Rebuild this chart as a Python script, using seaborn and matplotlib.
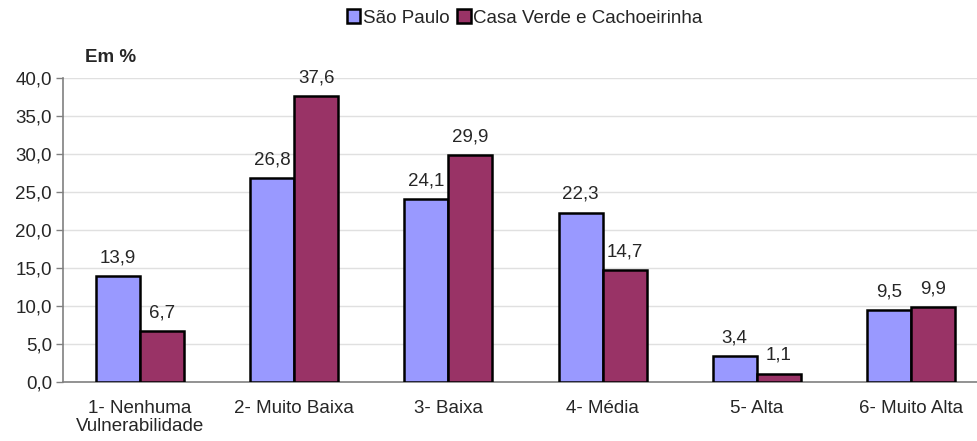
import matplotlib
matplotlib.use("Agg")
import matplotlib.pyplot as plt
import seaborn as sns
import pandas as pd
import numpy as np

# Data
categories = ["1- Nenhuma\nVulnerabilidade", "2- Muito Baixa", "3- Baixa",
              "4- Média", "5- Alta", "6- Muito Alta"]
series_names = ["São Paulo", "Casa Verde e Cachoeirinha"]
sao_paulo = [13.9, 26.8, 24.1, 22.3, 3.4, 9.5]
casa_verde = [6.7, 37.6, 29.9, 14.7, 1.1, 9.9]
yticks = [0, 5, 10, 15, 20, 25, 30, 35, 40]

df = pd.DataFrame({
    "categoria": categories * 2,
    "serie": [series_names[0]] * 6 + [series_names[1]] * 6,
    "valor": sao_paulo + casa_verde,
})

sns.set_theme(style="white")
plt.rcParams['font.family'] = ['Liberation Sans', 'DejaVu Sans']
fs = 13.5

fig = plt.figure(figsize=(9.77, 4.41), dpi=100)
ax = fig.add_axes([63 / 977, 59 / 441, 925 / 977, 304 / 441])

palette = {series_names[0]: "#9999FF", series_names[1]: "#993366"}
sns.barplot(data=df, x="categoria", y="valor", hue="serie", palette=palette,
            width=0.57, edgecolor="black", linewidth=1.8, saturation=1,
            ax=ax, zorder=3)

# value labels with comma decimals
for cont in ax.containers:
    ax.bar_label(cont, labels=[f"{v:.1f}".replace(".", ",") for v in cont.datavalues],
                 padding=7, fontsize=fs)

ax.set_ylim(0, 40)
ax.set_xlim(-0.5, 5.5)
ax.set_yticks(yticks)
ax.set_yticklabels([f"{v:.1f}".replace(".", ",") for v in yticks], fontsize=fs)
ax.yaxis.grid(True, color="#E0E0E0", linewidth=1, zorder=0)
ax.set_axisbelow(True)

ax.set_xticks(range(len(categories)))
ax.set_xticklabels(categories, fontsize=fs, linespacing=1.05)
ax.set_xticks(np.arange(-0.5, 6, 1), minor=True)
ax.tick_params(axis="x", which="major", length=0, pad=13)
ax.tick_params(axis="x", which="minor", length=5, width=1, color="#808080", direction="out")
ax.tick_params(axis="y", length=5, width=1, color="#808080", direction="out", left=True, pad=3)

ax.set_xlabel("")
ax.set_ylabel("")
for side in ["top", "right"]:
    ax.spines[side].set_visible(False)
for side in ["left", "bottom"]:
    ax.spines[side].set_color("#808080")
    ax.spines[side].set_linewidth(1.2)

fig.text(111 / 977, 1 - 58 / 441, "Em %", fontsize=fs, fontweight="bold",
         ha="center", va="center")

handles, labels = ax.get_legend_handles_labels()
ax.legend_.remove()
fig.legend(handles, labels, loc="center", bbox_to_anchor=(525 / 977, 1 - 18 / 441),
           ncol=2, frameon=False, fontsize=fs, handlelength=0.7, handleheight=0.7,
           handletextpad=0.15, columnspacing=0.4)

fig.savefig("out.png", dpi=100)
